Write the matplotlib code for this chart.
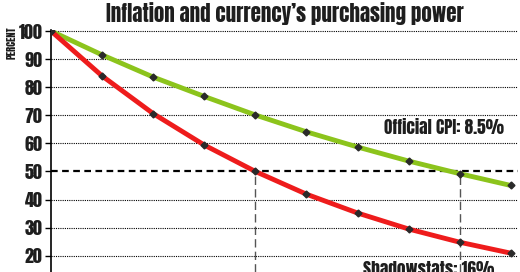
import matplotlib
matplotlib.use("Agg")
import matplotlib.pyplot as plt

steps = list(range(10))
official_cpi = [100, 91.5, 83.6, 76.7, 70.1, 64.1, 58.7, 53.7, 49.2, 45.0]
shadowstats = [100, 84.0, 70.6, 59.4, 50.0, 41.9, 35.2, 29.5, 24.8, 20.9]
yticks = [20, 30, 40, 50, 60, 70, 80, 90, 100]
title = "Inflation and currency\u2019s purchasing power"
label_official = "Official CPI: 8.5%"
label_shadow = "Shadowstats: 16%"
half_value = 50
half_points = [4, 8]

FONT = ["Anton", "DejaVu Sans"]
TXT = "#1e1e1e"

fig = plt.figure(figsize=(5.2, 2.72), dpi=100)
ax = fig.add_axes([51/520, 0.0, (518-51)/520, 242.4/272])
ax.set_xlim(0, 9.14)
ax.set_ylim(14.2, 100.5)

for t in yticks:
    if t == half_value:
        continue
    ax.axhline(t, color="black", lw=0.8, ls=(0, (1, 1)), zorder=1)
ax.axhline(half_value, color="black", lw=1.6, ls=(0, (3, 2)), zorder=1)
for i in half_points:
    ax.plot([steps[i], steps[i]], [14.2, half_value], color="#555555", lw=1.0,
            ls=(0, (6, 3)), zorder=1)

ax.plot(steps, official_cpi, color="#8cc41c", lw=3.5, zorder=2, solid_capstyle="round")
ax.plot(steps, shadowstats, color="#ee1c1c", lw=3.5, zorder=2, solid_capstyle="round")
ax.plot(steps, official_cpi, ls="none", marker="D", ms=3.5, color="#2a2a2a", zorder=3)
ax.plot(steps, shadowstats, ls="none", marker="D", ms=3.5, color="#2a2a2a", zorder=3)

for s in ["top", "right", "bottom"]:
    ax.spines[s].set_visible(False)
ax.spines["left"].set_linewidth(1.2)
ax.set_xticks([])
ax.set_yticks(yticks)
ax.set_yticklabels([str(t) for t in yticks], fontsize=13, family=FONT, color=TXT)
ax.tick_params(axis="y", length=4, width=1, pad=2)

fig.text(285/520, 1-14/272, title, ha="center", va="center", fontsize=15,
         family=FONT, color=TXT)
fig.text(12/520, 1-43/272, "PERCENT", rotation=90, ha="center", va="center",
         fontsize=7.5, family=FONT, color=TXT)
fig.text(444/520, 1-127/272, label_official, ha="center", va="center", fontsize=12.5,
         family=FONT, color=TXT)
fig.text(429/520, 1-261/272, label_shadow, ha="center", va="top", fontsize=12.5,
         family=FONT, color=TXT)

fig.savefig("out.png", dpi=100)
